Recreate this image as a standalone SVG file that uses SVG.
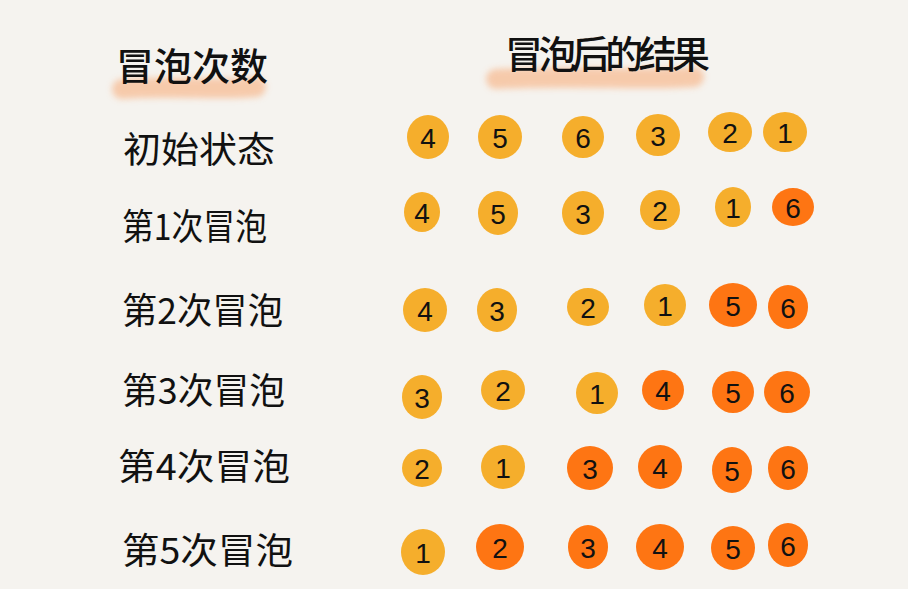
<svg xmlns="http://www.w3.org/2000/svg" width="908" height="589" viewBox="0 0 908 589">
<defs>
<filter id="blur" filterUnits="userSpaceOnUse" x="0" y="0" width="908" height="200"><feGaussianBlur stdDeviation="3"/></filter>
</defs>
<style>
.bg{fill:#F5F3EF}
.y{fill:#F5AE2C}
.r{fill:#FE7513}
.n{font-family:"Liberation Sans","Noto Sans CJK SC",sans-serif;font-size:28px;fill:#111;text-anchor:middle;dominant-baseline:central}
.h{font-family:"Noto Sans CJK SC",sans-serif;font-size:38px;font-weight:500;fill:#111}
.l{font-family:"Noto Sans CJK SC",sans-serif;font-size:36px;fill:#111}
.hl{stroke:#F7C09A;stroke-width:20;stroke-linecap:round;fill:none;opacity:0.8;filter:url(#blur)}
</style>
<rect class="bg" width="908" height="589"/>
<g id="headers">
<path class="hl" d="M122 89 C170 85 220 91 256 87"/>
<path class="hl" d="M496 79 C580 75 640 81 694 77"/>
<text class="h" x="116" y="80" textLength="152">冒泡次数</text>
<text class="h" x="505" y="68" textLength="205">冒泡后的结果</text>
</g>
<g id="labels">
<text class="l" x="123" y="163" textLength="152" lengthAdjust="spacingAndGlyphs">初始状态</text>
<text class="l" x="122" y="240" textLength="145" lengthAdjust="spacingAndGlyphs">第1次冒泡</text>
<text class="l" x="122" y="324" textLength="161" lengthAdjust="spacingAndGlyphs">第2次冒泡</text>
<text class="l" x="122" y="404" textLength="163" lengthAdjust="spacingAndGlyphs">第3次冒泡</text>
<text class="l" x="118" y="480" textLength="172" lengthAdjust="spacingAndGlyphs">第4次冒泡</text>
<text class="l" x="122" y="564" textLength="171" lengthAdjust="spacingAndGlyphs">第5次冒泡</text>
</g>
<g id="row0">
<g id="r0c0"><ellipse class="y" cx="428" cy="137" rx="21" ry="22"/><text class="n" x="428" y="138">4</text></g>
<g id="r0c1"><ellipse class="y" cx="500" cy="137" rx="22" ry="22"/><text class="n" x="500" y="138">5</text></g>
<g id="r0c2"><ellipse class="y" cx="583" cy="137" rx="21" ry="21"/><text class="n" x="583" y="138">6</text></g>
<g id="r0c3"><ellipse class="y" cx="658" cy="135" rx="22" ry="21"/><text class="n" x="658" y="136">3</text></g>
<g id="r0c4"><ellipse class="y" cx="730" cy="132" rx="22" ry="20"/><text class="n" x="730" y="133">2</text></g>
<g id="r0c5"><ellipse class="y" cx="785" cy="132" rx="22" ry="20"/><text class="n" x="785" y="133">1</text></g>
</g>
<g id="row1">
<g id="r1c0"><ellipse class="y" cx="422" cy="212" rx="18" ry="20"/><text class="n" x="422" y="213">4</text></g>
<g id="r1c1"><ellipse class="y" cx="498" cy="213" rx="20" ry="22"/><text class="n" x="498" y="214">5</text></g>
<g id="r1c2"><ellipse class="y" cx="583" cy="213" rx="21" ry="22"/><text class="n" x="583" y="214">3</text></g>
<g id="r1c3"><ellipse class="y" cx="660" cy="210" rx="20" ry="20"/><text class="n" x="660" y="211">2</text></g>
<g id="r1c4"><ellipse class="y" cx="733" cy="207" rx="18" ry="20"/><text class="n" x="733" y="208">1</text></g>
<g id="r1c5"><ellipse class="r" cx="793" cy="207" rx="21" ry="19"/><text class="n" x="793" y="208">6</text></g>
</g>
<g id="row2">
<g id="r2c0"><ellipse class="y" cx="425" cy="310" rx="22" ry="22"/><text class="n" x="425" y="311">4</text></g>
<g id="r2c1"><ellipse class="y" cx="497" cy="310" rx="20" ry="22"/><text class="n" x="497" y="311">3</text></g>
<g id="r2c2"><ellipse class="y" cx="588" cy="307" rx="21" ry="19"/><text class="n" x="588" y="308">2</text></g>
<g id="r2c3"><ellipse class="y" cx="665" cy="305" rx="21" ry="21"/><text class="n" x="665" y="306">1</text></g>
<g id="r2c4"><ellipse class="r" cx="733" cy="305" rx="24" ry="22"/><text class="n" x="733" y="306">5</text></g>
<g id="r2c5"><ellipse class="r" cx="788" cy="307" rx="20" ry="22"/><text class="n" x="788" y="308">6</text></g>
</g>
<g id="row3">
<g id="r3c0"><ellipse class="y" cx="422" cy="397" rx="20" ry="22"/><text class="n" x="422" y="398">3</text></g>
<g id="r3c1"><ellipse class="y" cx="503" cy="390" rx="22" ry="20"/><text class="n" x="503" y="391">2</text></g>
<g id="r3c2"><ellipse class="y" cx="597" cy="393" rx="21" ry="21"/><text class="n" x="597" y="394">1</text></g>
<g id="r3c3"><ellipse class="r" cx="663" cy="390" rx="21" ry="20"/><text class="n" x="663" y="391">4</text></g>
<g id="r3c4"><ellipse class="r" cx="733" cy="392" rx="21" ry="21"/><text class="n" x="733" y="393">5</text></g>
<g id="r3c5"><ellipse class="r" cx="787" cy="392" rx="23" ry="21"/><text class="n" x="787" y="393">6</text></g>
</g>
<g id="row4">
<g id="r4c0"><ellipse class="y" cx="422" cy="468" rx="20" ry="19"/><text class="n" x="422" y="469">2</text></g>
<g id="r4c1"><ellipse class="y" cx="503" cy="467" rx="22" ry="22"/><text class="n" x="503" y="468">1</text></g>
<g id="r4c2"><ellipse class="r" cx="590" cy="468" rx="23" ry="22"/><text class="n" x="590" y="469">3</text></g>
<g id="r4c3"><ellipse class="r" cx="660" cy="467" rx="22" ry="22"/><text class="n" x="660" y="468">4</text></g>
<g id="r4c4"><ellipse class="r" cx="732" cy="470" rx="20" ry="23"/><text class="n" x="732" y="471">5</text></g>
<g id="r4c5"><ellipse class="r" cx="788" cy="468" rx="20" ry="22"/><text class="n" x="788" y="469">6</text></g>
</g>
<g id="row5">
<g id="r5c0"><ellipse class="y" cx="423" cy="552" rx="22" ry="23"/><text class="n" x="423" y="553">1</text></g>
<g id="r5c1"><ellipse class="r" cx="500" cy="547" rx="24" ry="23"/><text class="n" x="500" y="548">2</text></g>
<g id="r5c2"><ellipse class="r" cx="588" cy="547" rx="20" ry="22"/><text class="n" x="588" y="548">3</text></g>
<g id="r5c3"><ellipse class="r" cx="660" cy="547" rx="24" ry="23"/><text class="n" x="660" y="548">4</text></g>
<g id="r5c4"><ellipse class="r" cx="733" cy="548" rx="22" ry="22"/><text class="n" x="733" y="549">5</text></g>
<g id="r5c5"><ellipse class="r" cx="788" cy="545" rx="20" ry="22"/><text class="n" x="788" y="546">6</text></g>
</g>
<g id="connectors"/>
</svg>
